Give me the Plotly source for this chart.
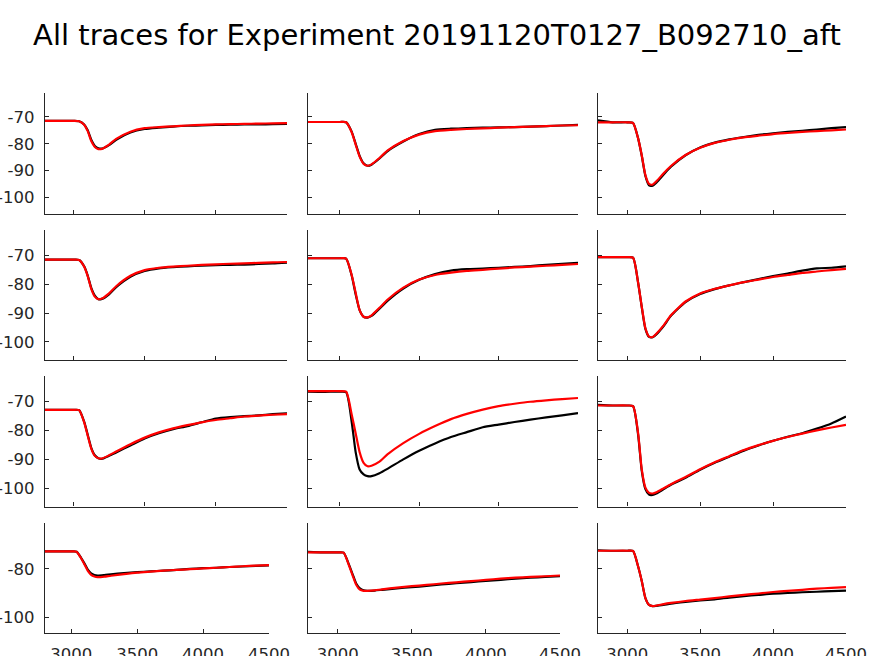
import plotly.graph_objects as go

title_text = "All traces for Experiment 20191120T0127_B092710_aft"

time_ms = [2800, 2900, 3000, 3040, 3075, 3100, 3125, 3150, 3175, 3200, 3250, 3300,
           3400, 3500, 3600, 3700, 3800, 3900, 4000, 4100, 4200, 4300, 4400, 4500]

x_ticks = [3000, 3500, 4000, 4500]
y_ticks_main = [-100, -90, -80, -70]
y_ticks_last = [-100, -80]

# recorded (black) and fitted (red) traces, row by row
rec_r1c1 = [-71.5, -71.5, -71.5, -71.6, -72.8, -75.0, -78.5, -80.8, -81.7, -81.8, -80.5, -78.5, -75.8, -74.5, -74.0, -73.6, -73.3, -73.2, -73.0, -72.9, -72.8, -72.8, -72.7, -72.6]
fit_r1c1 = [-71.5, -71.5, -71.5, -71.6, -72.9, -75.3, -79.0, -81.2, -82.0, -81.9, -80.3, -78.2, -75.5, -74.2, -73.8, -73.5, -73.2, -73.0, -72.8, -72.7, -72.6, -72.5, -72.4, -72.3]
rec_r1c2 = [-71.9, -71.9, -71.9, -72.0, -75.5, -80.0, -84.5, -87.3, -88.2, -87.8, -85.5, -82.8, -79.2, -76.4, -74.8, -74.4, -74.2, -74.0, -73.9, -73.8, -73.6, -73.4, -73.2, -73.0]
fit_r1c2 = [-71.9, -71.9, -71.9, -72.0, -75.7, -80.3, -84.8, -87.5, -88.2, -87.7, -85.3, -82.6, -79.0, -76.6, -75.3, -74.8, -74.5, -74.3, -74.0, -73.8, -73.6, -73.4, -73.2, -73.1]
rec_r1c3 = [-71.3, -72.0, -72.0, -72.2, -78.0, -84.5, -92.0, -95.5, -95.6, -94.5, -91.5, -88.6, -84.3, -81.4, -79.6, -78.4, -77.5, -76.7, -76.1, -75.6, -75.2, -74.7, -74.2, -73.8]
fit_r1c3 = [-72.0, -72.0, -72.0, -72.2, -78.0, -84.3, -91.7, -95.0, -95.2, -94.0, -91.0, -88.3, -84.2, -81.5, -79.7, -78.5, -77.6, -77.0, -76.4, -76.0, -75.6, -75.3, -75.0, -74.7]

rec_r2c1 = [-71.5, -71.5, -71.5, -71.6, -73.8, -77.0, -81.3, -84.0, -85.2, -85.1, -83.5, -81.0, -77.4, -75.4, -74.5, -74.1, -73.8, -73.6, -73.4, -73.3, -73.2, -73.0, -72.8, -72.5]
fit_r2c1 = [-71.5, -71.5, -71.5, -71.6, -73.9, -77.2, -81.6, -84.3, -85.2, -85.0, -83.2, -80.7, -77.1, -75.1, -74.3, -73.9, -73.6, -73.3, -73.1, -72.9, -72.8, -72.6, -72.4, -72.3]
rec_r2c2 = [-71.0, -71.0, -71.0, -71.1, -77.0, -83.5, -89.0, -91.3, -91.6, -91.0, -88.5, -85.8, -81.5, -78.5, -76.5, -75.3, -74.8, -74.6, -74.3, -74.0, -73.7, -73.3, -72.9, -72.6]
fit_r2c2 = [-71.0, -71.0, -71.0, -71.1, -76.8, -83.0, -89.0, -91.3, -91.5, -90.8, -88.2, -85.4, -81.2, -78.4, -76.8, -76.0, -75.4, -75.0, -74.6, -74.2, -73.9, -73.6, -73.3, -73.0]
rec_r2c3 = [-70.6, -70.6, -70.6, -70.8, -79.5, -88.0, -95.5, -98.3, -98.4, -97.4, -94.5, -91.0, -86.2, -83.4, -81.7, -80.4, -79.3, -78.2, -77.2, -76.3, -75.3, -74.5, -74.3, -73.8]
fit_r2c3 = [-70.6, -70.6, -70.6, -70.8, -79.5, -87.8, -95.3, -98.2, -98.3, -97.2, -94.3, -90.8, -86.0, -83.2, -81.6, -80.4, -79.3, -78.4, -77.5, -76.8, -76.1, -75.6, -75.1, -74.7]

rec_r3c1 = [-72.9, -72.9, -72.9, -73.0, -77.0, -81.5, -86.0, -88.6, -89.6, -89.8, -88.8, -87.6, -85.2, -82.8, -81.0, -79.6, -78.5, -77.2, -75.9, -75.4, -75.1, -74.8, -74.4, -74.1]
fit_r3c1 = [-72.9, -72.9, -72.9, -73.0, -77.2, -81.8, -86.3, -88.8, -89.6, -89.7, -88.6, -87.3, -84.8, -82.5, -80.7, -79.3, -78.2, -77.2, -76.4, -75.8, -75.2, -74.9, -74.6, -74.4]
rec_r3c2 = [-66.6, -66.7, -66.6, -66.8, -77.0, -87.5, -93.5, -95.2, -95.8, -95.8, -94.8, -93.3, -90.0, -87.0, -84.5, -82.3, -80.6, -78.9, -78.0, -77.1, -76.3, -75.5, -74.8, -74.0]
fit_r3c2 = [-66.4, -66.4, -66.4, -66.6, -74.5, -81.0, -87.5, -91.2, -92.4, -92.2, -90.8, -88.3, -84.4, -81.2, -78.5, -76.1, -74.3, -72.8, -71.6, -70.8, -70.1, -69.6, -69.2, -68.8]
rec_r3c3 = [-71.2, -71.4, -71.4, -71.6, -81.5, -94.0, -100.3, -102.2, -102.3, -101.8, -100.3, -98.8, -96.4, -93.6, -91.2, -89.1, -87.0, -85.2, -83.6, -82.2, -81.0, -79.4, -77.6, -75.2]
fit_r3c3 = [-71.4, -71.4, -71.4, -71.6, -81.0, -93.5, -99.8, -101.6, -101.8, -101.4, -100.0, -98.6, -96.1, -93.4, -91.0, -88.9, -86.8, -85.1, -83.6, -82.3, -81.1, -80.0, -79.0, -78.1]

rec_r4c1 = [-72.8, -72.8, -72.8, -72.9, -75.5, -77.8, -80.3, -81.8, -82.5, -82.7, -82.5, -82.2, -81.7, -81.3, -81.0, -80.7, -80.4, -80.0, -79.7, -79.5, -79.2, -79.0, -78.7, -78.5]
fit_r4c1 = [-72.8, -72.8, -72.8, -72.9, -75.7, -78.2, -80.8, -82.4, -83.1, -83.4, -83.2, -82.8, -82.1, -81.5, -81.1, -80.7, -80.4, -80.1, -79.8, -79.5, -79.2, -78.9, -78.6, -78.4]
rec_r4c2 = [-73.0, -73.2, -73.2, -73.3, -78.0, -82.0, -86.0, -88.0, -88.8, -89.0, -88.9, -88.6, -88.0, -87.5, -87.0, -86.4, -85.9, -85.4, -84.9, -84.5, -84.0, -83.6, -83.3, -83.0]
fit_r4c2 = [-73.2, -73.2, -73.2, -73.3, -78.3, -82.5, -86.5, -88.5, -89.0, -89.0, -88.8, -88.4, -87.7, -87.1, -86.6, -86.0, -85.5, -85.0, -84.5, -84.0, -83.6, -83.3, -83.0, -82.7]
rec_r4c3 = [-72.3, -72.5, -72.5, -72.6, -79.0, -85.0, -92.0, -94.8, -95.3, -95.2, -94.8, -94.3, -93.6, -93.0, -92.5, -91.8, -91.2, -90.7, -90.2, -89.9, -89.6, -89.4, -89.1, -88.9]
fit_r4c3 = [-72.5, -72.5, -72.5, -72.6, -79.0, -85.0, -92.0, -94.8, -95.3, -95.1, -94.5, -94.0, -93.2, -92.6, -92.0, -91.3, -90.7, -90.1, -89.5, -89.0, -88.6, -88.1, -87.8, -87.5]

panels = [
    (rec_r1c1, fit_r1c1), (rec_r1c2, fit_r1c2), (rec_r1c3, fit_r1c3),
    (rec_r2c1, fit_r2c1), (rec_r2c2, fit_r2c2), (rec_r2c3, fit_r2c3),
    (rec_r3c1, fit_r3c1), (rec_r3c2, fit_r3c2), (rec_r3c3, fit_r3c3),
    (rec_r4c1, fit_r4c1), (rec_r4c2, fit_r4c2), (rec_r4c3, fit_r4c3),
]

W, H = 874, 656
x_range = [2800, 4500]
y_range = [-106.3, -61.2]

# pixel boxes for panels (left, right) per row and (top, bottom) per row
cols_upper = [(45, 287), (308, 578), (598, 846)]
cols_lower = [(45, 269), (308, 560), (598, 846)]
rows_px = [(93.3, 214.3), (230, 360), (376, 506.5), (523.3, 632.8)]

axis_color = "#262626"
font_family = "DejaVu Sans, Liberation Sans, sans-serif"

fig = go.Figure()
layout = {}
for i, (rec, fit) in enumerate(panels):
    r, c = divmod(i, 3)
    n = i + 1
    xa = "x" if n == 1 else f"x{n}"
    ya = "y" if n == 1 else f"y{n}"
    fig.add_trace(go.Scatter(x=time_ms, y=rec, mode="lines", xaxis=xa, yaxis=ya,
                             line=dict(color="black", width=2.2, shape="spline", smoothing=0.6),
                             showlegend=False, hoverinfo="skip"))
    fig.add_trace(go.Scatter(x=time_ms, y=fit, mode="lines", xaxis=xa, yaxis=ya,
                             line=dict(color="#ff0000", width=2.2, shape="spline", smoothing=0.6),
                             showlegend=False, hoverinfo="skip"))
    cl, cr = (cols_lower if r == 3 else cols_upper)[c]
    rt, rb = rows_px[r]
    xkey = "xaxis" if n == 1 else f"xaxis{n}"
    ykey = "yaxis" if n == 1 else f"yaxis{n}"
    layout[xkey] = dict(
        domain=[cl / W, cr / W], anchor=ya, range=x_range, automargin=False,
        tickmode="array", tickvals=x_ticks, ticktext=[str(v) for v in x_ticks],
        showticklabels=(r == 3), ticks="inside", ticklen=4, tickwidth=1, tickcolor=axis_color,
        showline=True, linecolor=axis_color, linewidth=1.3, mirror=False,
        showgrid=False, zeroline=False, ticklabelstandoff=6,
        tickfont=dict(family=font_family, size=16.5, color=axis_color),
    )
    yt = y_ticks_last if r == 3 else y_ticks_main
    layout[ykey] = dict(
        domain=[1 - rb / H, 1 - rt / H], anchor=xa, range=y_range, automargin=False,
        tickmode="array", tickvals=yt, ticktext=[str(v) for v in yt],
        showticklabels=(c == 0), ticks="inside", ticklen=4, tickwidth=1, tickcolor=axis_color,
        showline=True, linecolor=axis_color, linewidth=1.3, mirror=False,
        showgrid=False, zeroline=False, ticklabelstandoff=6,
        tickfont=dict(family=font_family, size=16.5, color=axis_color),
    )

fig.update_layout(
    width=W, height=H,
    margin=dict(l=0, r=0, t=0, b=0),
    paper_bgcolor="white", plot_bgcolor="white",
    title=dict(text=title_text, x=0.5, xanchor="center", xref="paper",
               y=1 - 35 / H, yanchor="middle", yref="container",
               font=dict(family=font_family, size=29, color="black")),
    **layout,
)

fig.write_html("out.html")
